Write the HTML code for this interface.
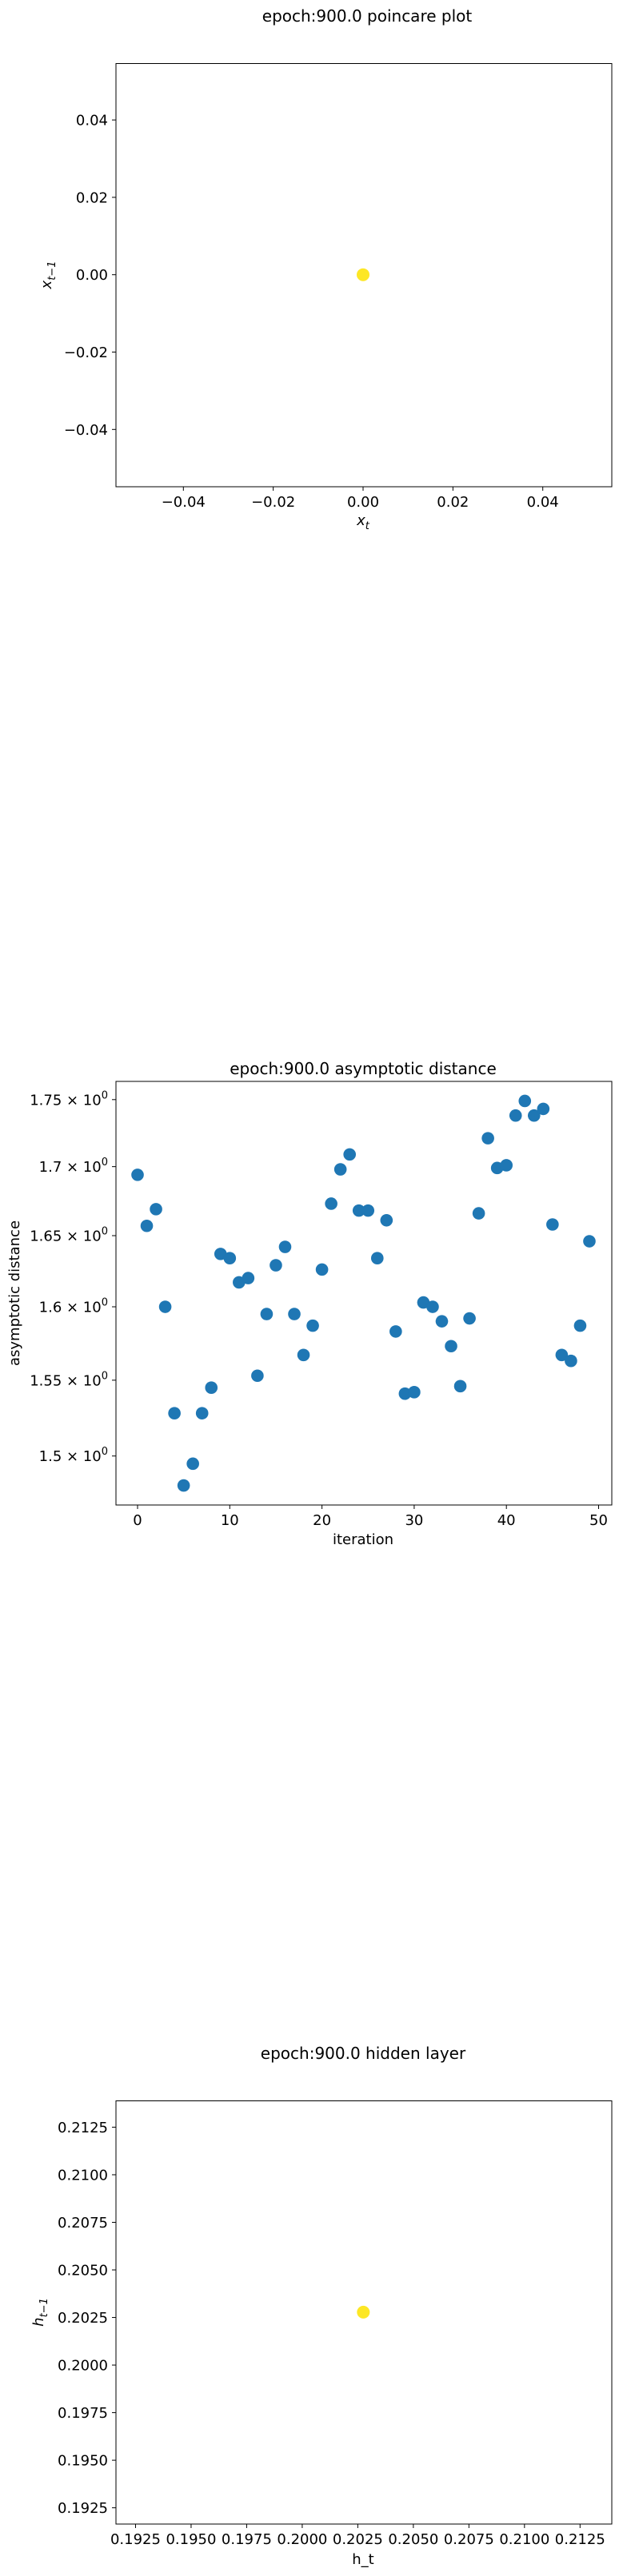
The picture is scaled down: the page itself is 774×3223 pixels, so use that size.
<!DOCTYPE html>
<html><head><meta charset="utf-8"><style>
html,body{margin:0;padding:0;background:#fff}
svg{display:block;font-family:"DejaVu Sans","Liberation Sans",sans-serif}
</style></head><body>
<svg id="fig" width="774" height="3223" viewBox="0 0 774 3223" xmlns="http://www.w3.org/2000/svg">
<rect width="774" height="3223" fill="#fff"/>
</svg>
<script>
// ---- Data ----
const poincareX = [0.0];
const poincareY = [0.0];
const poincareTicks = [-0.04, -0.02, 0.00, 0.02, 0.04];
const poincareTickLabels = ["\u22120.04", "\u22120.02", "0.00", "0.02", "0.04"];

const iterations = [0,1,2,3,4,5,6,7,8,9,10,11,12,13,14,15,16,17,18,19,20,21,22,23,24,25,26,27,28,29,30,31,32,33,34,35,36,37,38,39,40,41,42,43,44,45,46,47,48,49];
const distances = [1.694,1.657,1.669,1.600,1.528,1.481,1.495,1.528,1.545,1.637,1.634,1.617,1.620,1.553,1.595,1.629,1.642,1.595,1.567,1.587,1.626,1.673,1.698,1.709,1.668,1.668,1.634,1.661,1.583,1.541,1.542,1.603,1.600,1.590,1.573,1.546,1.592,1.666,1.721,1.699,1.701,1.738,1.749,1.738,1.743,1.658,1.567,1.563,1.587,1.646];
const distXTicks = [0, 10, 20, 30, 40, 50];
const distYTicks = [1.5, 1.55, 1.6, 1.65, 1.7, 1.75];
const distYTickLabels = ["1.5", "1.55", "1.6", "1.65", "1.7", "1.75"];

const hiddenX = [0.20275];
const hiddenY = [0.20278];
const hiddenTicks = [0.1925, 0.1950, 0.1975, 0.2000, 0.2025, 0.2050, 0.2075, 0.2100, 0.2125];
const hiddenTickLabels = ["0.1925","0.1950","0.1975","0.2000","0.2025","0.2050","0.2075","0.2100","0.2125"];

const NS = "http://www.w3.org/2000/svg";
const fig = document.getElementById('fig');
function mk(tag, attrs, parent, text) {
  const e = document.createElementNS(NS, tag);
  for (const k in attrs) e.setAttribute(k, attrs[k]);
  if (text !== undefined) e.textContent = text;
  (parent || fig).appendChild(e);
  return e;
}
function linScale(d0, d1, r0, r1) { return v => r0 + (v - d0) * (r1 - r0) / (d1 - d0); }
function logScale(d0, d1, r0, r1) { return v => r0 + (Math.log(v) - Math.log(d0)) * (r1 - r0) / (Math.log(d1) - Math.log(d0)); }

function frame(g, L, T, R, B) {
  const f = mk('rect', {x: L, y: T, width: R - L, height: B - T, fill: 'none', stroke: '#000', 'stroke-width': 1}, g);
  
  
}
function xTicks(g, ticks, labels, sx, B) {
  ticks.forEach((t, i) => {
    const x = sx(t);
    const tk = mk('line', {x1: x, x2: x, y1: B, y2: B + 5, stroke: '#000', 'stroke-width': 1}, g);
    
    
    const lb = mk('text', {x: x, y: B + 25, 'text-anchor': 'middle', 'font-size': 18}, g, labels[i]);
    
    
  });
}
function yTicks(g, ticks, labels, sy, L) {
  ticks.forEach((t, i) => {
    const y = sy(t);
    const tk = mk('line', {x1: L - 5, x2: L, y1: y, y2: y, stroke: '#000', 'stroke-width': 1}, g);
    
    
    const lb = mk('text', {x: L - 10, y: y + 6.5, 'text-anchor': 'end', 'font-size': 18}, g, labels[i]);
    
    
  });
}

// ---- Plot 1: poincare ----
(function(){
  const g = mk('g', {});
  
  
  const L = 145, R = 765, T = 79.5, B = 609;
  const sx = linScale(-0.04, 0.0, 229.3, 454);
  const sy = linScale(-0.04, 0.0, 537.3, 343.7);
  const t = mk('text', {x: 459, y: 27, 'text-anchor': 'middle', 'font-size': 20}, g, 'epoch:900.0 poincare plot');
  
  
  frame(g, L, T, R, B);
  xTicks(g, poincareTicks, poincareTickLabels, sx, B);
  yTicks(g, poincareTicks, poincareTickLabels, sy, L);
  poincareX.forEach((v, i) => {
    const c = mk('circle', {cx: sx(v), cy: sy(poincareY[i]), r: 8, fill: '#fde725'}, g);
    
    
  });
  const xl = mk('text', {x: 454, y: 657, 'text-anchor': 'middle', 'font-size': 18, 'font-style': 'italic'}, g);
  
  
  xl.innerHTML = 'x<tspan font-size="13" dy="5">t</tspan>';
  const yl = mk('text', {transform: 'translate(64,344) rotate(-90)', 'text-anchor': 'middle', 'font-size': 18, 'font-style': 'italic'}, g);
  
  
  yl.innerHTML = 'x<tspan font-size="13" dy="5">t\u22121</tspan>';
})();

// ---- Plot 2: asymptotic distance ----
(function(){
  const g = mk('g', {});
  
  
  const L = 145, R = 765, T = 1353, B = 1883;
  const sx = linScale(0, 50, 172, 748.5);
  const sy = logScale(1.5, 1.75, 1821.7, 1375.8);
  const t = mk('text', {x: 454, y: 1344, 'text-anchor': 'middle', 'font-size': 20}, g, 'epoch:900.0 asymptotic distance');
  
  
  frame(g, L, T, R, B);
  xTicks(g, distXTicks, distXTicks.map(String), sx, B);
  distYTicks.forEach((v, i) => {
    const y = sy(v);
    const tk = mk('line', {x1: L - 5, x2: L, y1: y, y2: y, stroke: '#000', 'stroke-width': 1}, g);
    
    
    const lb = mk('text', {x: L - 10, y: y + 6.5, 'text-anchor': 'end', 'font-size': 18}, g);
    
    
    lb.innerHTML = distYTickLabels[i] + ' \u00d7 10<tspan font-size="13" dy="-8">0</tspan>';
  });
  iterations.forEach((it, i) => {
    const c = mk('circle', {cx: sx(it), cy: sy(distances[i]), r: 7.8, fill: '#1f77b4'}, g);
    
    
  });
  const xl = mk('text', {x: 454, y: 1932, 'text-anchor': 'middle', 'font-size': 18}, g, 'iteration');
  
  
  const yl = mk('text', {transform: 'translate(24,1618) rotate(-90)', 'text-anchor': 'middle', 'font-size': 18}, g, 'asymptotic distance');
  
  
})();

// ---- Plot 3: hidden layer ----
(function(){
  const g = mk('g', {});
  
  
  const L = 145, R = 765, T = 2628.5, B = 3158;
  const sx = linScale(0.1925, 0.2125, 343 / 2.024, 1468 / 2.024);
  const sy = linScale(0.1925, 0.2125, 2550 + 1371 / 2.333, 2550 + 260 / 2.333);
  const t = mk('text', {x: 454, y: 2576, 'text-anchor': 'middle', 'font-size': 20}, g, 'epoch:900.0 hidden layer');
  
  
  frame(g, L, T, R, B);
  xTicks(g, hiddenTicks, hiddenTickLabels, sx, B);
  yTicks(g, hiddenTicks, hiddenTickLabels, sy, L);
  hiddenX.forEach((v, i) => {
    const c = mk('circle', {cx: sx(v), cy: sy(hiddenY[i]), r: 8, fill: '#fde725'}, g);
    
    
  });
  const xl = mk('text', {x: 454, y: 3208, 'text-anchor': 'middle', 'font-size': 18}, g, 'h_t');
  
  
  const yl = mk('text', {transform: 'translate(54,2893) rotate(-90)', 'text-anchor': 'middle', 'font-size': 18, 'font-style': 'italic'}, g);
  
  
  yl.innerHTML = 'h<tspan font-size="13" dy="5">t\u22121</tspan>';
})();
</script>
</body></html>
